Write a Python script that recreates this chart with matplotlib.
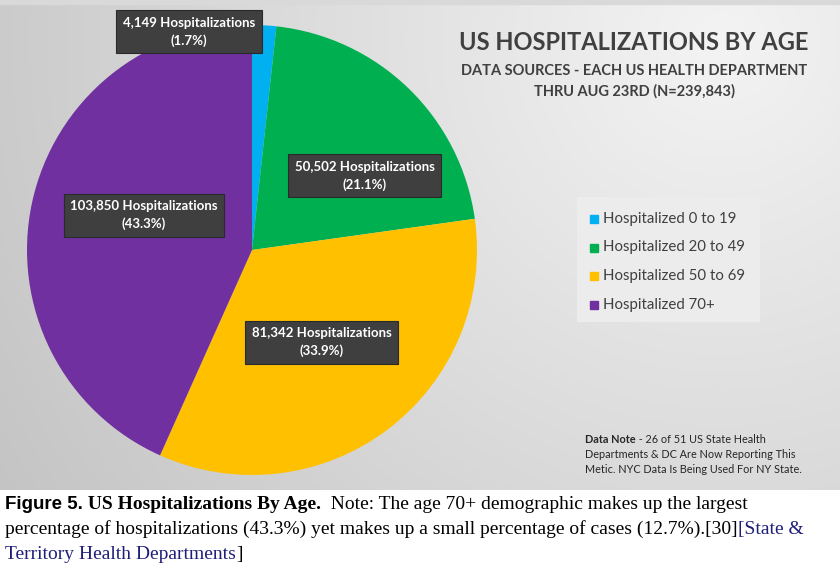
"""
US hospitalizations by age - pie chart with caption
"""
import numpy as np
import matplotlib
matplotlib.use('Agg')
import matplotlib.pyplot as plt
from matplotlib.patches import Rectangle

# Data
groups = ['Hospitalized 0 to 19', 'Hospitalized 20 to 49',
          'Hospitalized 50 to 69', 'Hospitalized 70+']
hospitalizations = [4149, 50502, 81342, 103850]
percents = ['1.7%', '21.1%', '33.9%', '43.3%']
colors = ['#00B0F0', '#00B050', '#FFC000', '#7030A0']

# label box centres, in pie units (radius = 1)
label_pos = [(-0.28, 0.97), (0.50, 0.33), (0.31, -0.41), (-0.48, 0.155)]

W, H = 840, 565
fig = plt.figure(figsize=(W / 100, H / 100), dpi=100)
fig.patch.set_facecolor('white')

# chart area background: radial grey gradient, light in upper right
chart_top, chart_bot = 0, 490
bg = fig.add_axes([0, 1 - chart_bot / H, 1, (chart_bot - chart_top) / H])
yy, xx = np.mgrid[0:chart_bot, 0:W]
d = np.hypot(xx - 720, yy - 40) / 800.0
shade = 0.955 - 0.175 * np.clip(d, 0, 1.1)
bg.imshow(np.dstack([shade] * 3), aspect='auto', extent=[0, W, chart_bot, 0])
bg.add_patch(Rectangle((0, 0), W, 4, color='#d9d9d9'))
bg.set_xlim(0, W)
bg.set_ylim(chart_bot, 0)
bg.axis('off')

# pie
cx, cy, r = 252, 250, 225
pie_ax = fig.add_axes([(cx - r) / W, 1 - (cy + r) / H, 2 * r / W, 2 * r / H])
wedges, _ = pie_ax.pie(hospitalizations, colors=colors, startangle=90,
                       counterclock=False, radius=1.0,
                       wedgeprops=dict(linewidth=0))
pie_ax.set_xlim(-1.0, 1.0)
pie_ax.set_ylim(-1.0, 1.0)
pie_ax.set_aspect('auto')

for n, pct, (lx, ly) in zip(hospitalizations, percents, label_pos):
    pie_ax.text(lx, ly, f'{n:,} Hospitalizations\n({pct})',
                ha='center', va='center', color='white', fontsize=9.5,
                fontweight='bold', family='Lato', linespacing=1.5,
                bbox=dict(boxstyle='square,pad=0.5', fc='#3f3f3f',
                          ec='#2a2a2a', lw=0.8),
                clip_on=False, zorder=5)

# titles
fig.text(634 / W, 1 - 42 / H, 'US HOSPITALIZATIONS BY AGE', ha='center',
         va='center', fontsize=17, fontweight='bold', color='#404040',
         family='Lato')
fig.text(634 / W, 1 - 71 / H, 'DATA SOURCES - EACH US HEALTH DEPARTMENT',
         ha='center', va='center', fontsize=10.5, fontweight='bold',
         color='#404040', family='Lato')
fig.text(634 / W, 1 - 91 / H, 'THRU AUG 23RD (N=239,843)',
         ha='center', va='center', fontsize=10.5, fontweight='bold',
         color='#404040', family='Lato')

# legend
lg_ax = fig.add_axes([577 / W, 1 - 322 / H, 183 / W, 125 / H])
lg_ax.set_xlim(0, 183)
lg_ax.set_ylim(125, 0)
lg_ax.add_patch(Rectangle((0, 0), 183, 125, color='#ececec'))
lg_ax.axis('off')
for i, (g, c) in enumerate(zip(groups, colors)):
    y = 22 + i * 28.5
    lg_ax.add_patch(Rectangle((13, y - 4), 8, 8, color=c))
    lg_ax.text(26, y, g, va='center', ha='left', fontsize=10.8,
               color='#404040', family='Lato')

fig.canvas.draw()
renderer = fig.canvas.get_renderer()


def put_runs(x_px, y_px, runs):
    """place text runs one after another on a baseline (pixel coords, top origin)"""
    for txt, kw in runs:
        t = fig.text(x_px / W, 1 - y_px / H, txt, ha='left', va='baseline', **kw)
        bb = t.get_window_extent(renderer)
        x_px += bb.width


# data note
note_kw = dict(fontsize=7.8, color='#262626', family='Lato')
put_runs(585, 443, [('Data Note', dict(note_kw, fontweight='bold')),
                    (' - 26 of 51 US State Health', note_kw)])
put_runs(585, 458, [('Departments & DC Are Now Reporting This', note_kw)])
put_runs(585, 473, [('Metic. NYC Data Is Being Used For NY State.', note_kw)])

# caption
serif = dict(fontsize=14, family='Liberation Serif', color='black')
link = dict(serif, color='#1f1f7a')
put_runs(5, 509, [('Figure 5.', dict(fontsize=13.5, family='Liberation Sans',
                                     fontweight='bold', color='black')),
                  (' US Hospitalizations By Age.', dict(serif, fontweight='bold')),
                  ('  Note: The age 70+ demographic makes up the largest', serif)])
put_runs(5, 534, [('percentage of hospitalizations (43.3%) yet makes up a small '
                   'percentage of cases (12.7%).[30]', serif),
                  ('[State &', link)])
put_runs(5, 559, [('Territory Health Departments', link), (']', serif)])

fig.savefig('out.png', dpi=100)
